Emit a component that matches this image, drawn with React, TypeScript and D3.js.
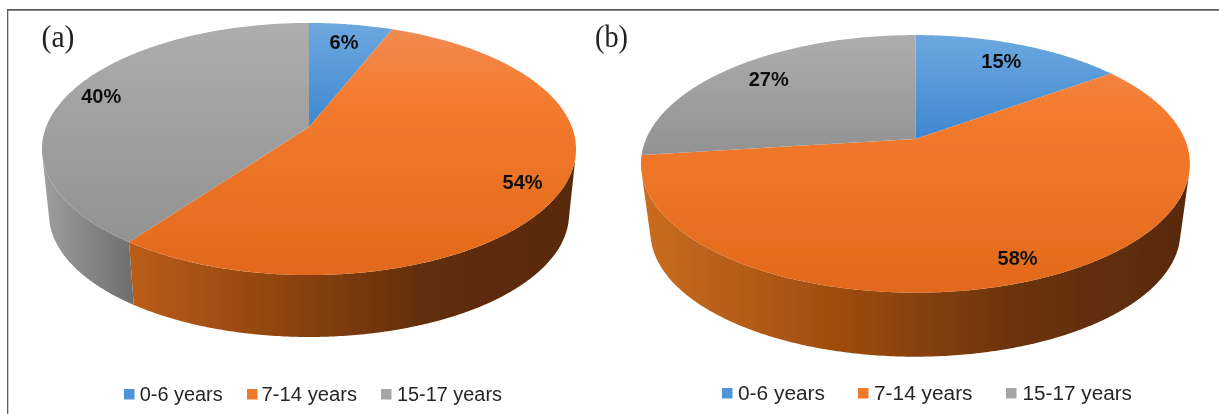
import React from "react";
import * as d3 from "d3";

const categories = ["0-6 years", "7-14 years", "15-17 years"];
const valuesA = [6, 54, 40];
const valuesB = [15, 58, 27];
const panelNames = ["(a)", "(b)"];

const WIDTH = 1219;
const HEIGHT = 414;

const topStops = [
  [["0", "#6ca8df"], ["1", "#3f87cf"]],
  [["0", "#f08c55"], ["0.3", "#f47b2d"], ["1", "#e2691a"]],
  [["0", "#adadad"], ["1", "#929292"]],
];

interface Panel {
  id: string; name: string; values: number[];
  cx: number; vy: number; R: number; K: number; p: number;
  Rb: number; Kb: number; vyb: number;
  x0: number; x1: number; y0: number; y1: number;
  labelF: number[]; titleX: number;
  legendSwatch: number[]; legendText: [number, number][]; legendY: number;
  orangeSide: [number, string][];
  graySide: [number, string][];
}

const panels: Panel[] = [
  {
    id: "a", name: panelNames[0], values: valuesA,
    cx: 309, vy: 127, R: 262.9, K: 122.2, p: 0.1746,
    Rb: 256, Kb: 119, vyb: 192.8,
    x0: 40, x1: 578, y0: 23, y1: 275,
    labelF: [0.81, 0.86, 0.87], titleX: 41.5,
    legendSwatch: [124, 247, 381],
    legendText: [[139.7, 83], [261.6, 95.5], [397, 105]], legendY: 400,
    orangeSide: [[133, "#b95d14"], [300, "#8a4110"], [430, "#5f2d09"], [570, "#592a08"]],
    graySide: [[46, "#9c9c9c"], [133, "#6e6e6e"]],
  },
  {
    id: "b", name: panelNames[1], values: valuesB,
    cx: 915.4, vy: 139, R: 269.3, K: 124, p: 0.193,
    Rb: 260, Kb: 120, vyb: 208,
    x0: 640, x1: 1190, y0: 35, y1: 293,
    labelF: [0.8, 0.87, 0.8], titleX: 595,
    legendSwatch: [722, 858, 1006],
    legendText: [[738, 87], [874, 98.5], [1022.5, 109.5]], legendY: 399,
    orangeSide: [[645, "#ca6c20"], [830, "#a04e10"], [1020, "#6a3209"], [1185, "#592a08"]],
    graySide: [[640, "#9c9c9c"], [700, "#6e6e6e"]],
  },
];

type Pt = [number, number];

function project(P: Panel, theta: number, f = 1, bottom = false): Pt {
  const u = Math.sin(theta) * f;
  const v = -Math.cos(theta) * f;
  const w = 1 / (1 - P.p * v);
  return bottom
    ? [P.cx + P.Rb * u * w, P.vyb + P.Kb * v * w]
    : [P.cx + P.R * u * w, P.vy + P.K * v * w];
}

function samples(a: number, b: number): number[] {
  const n = Math.max(2, Math.ceil((b - a) / 0.01));
  return d3.range(n + 1).map((i) => a + ((b - a) * i) / n);
}

const line = d3.line<Pt>().x((d) => d[0]).y((d) => d[1]);

function topPath(P: Panel, a: number, b: number): string {
  const pts: Pt[] = [[P.cx, P.vy], ...samples(a, b).map((t) => project(P, t))];
  return line(pts) + "Z";
}

function sidePath(P: Panel, a: number, b: number): string {
  const ts = samples(a, b);
  let out = "";
  for (let i = 0; i < ts.length - 1; i++) {
    const p1 = project(P, ts[i]);
    const p2 = project(P, ts[i + 1]);
    const p3 = project(P, ts[i + 1], 1, true);
    const p4 = project(P, ts[i], 1, true);
    const area =
      (p2[0] - p1[0]) * (p4[1] - p1[1]) - (p2[1] - p1[1]) * (p4[0] - p1[0]);
    if (area >= 0) continue;
    out += line([p1, p2, p3, p4]) + "Z";
  }
  return out;
}

function PanelView({ P }: { P: Panel }) {
  const arcs = d3.pie<number>().sort(null).value((d) => d)(P.values);
  const px = d3.scaleLinear().domain([0, 1]).range([P.y0, P.y1]);
  return (
    <g>
      <defs>
        {topStops.map((stops, i) => {
          const arc = arcs[i];
          const ys = samples(arc.startAngle, arc.endAngle).map((t) => project(P, t)[1]);
          const y0 = d3.min([...ys, P.vy]) as number;
          const y1 = d3.max([...ys, P.vy]) as number;
          return (
            <linearGradient key={i} id={`top-${P.id}-${i}`} gradientUnits="userSpaceOnUse"
              x1={0} x2={0} y1={i === 1 ? px(0) : y0} y2={i === 1 ? px(1) : y1}>
              {stops.map(([o, c]) => <stop key={o} offset={o} stopColor={c} />)}
            </linearGradient>
          );
        })}
        {[P.orangeSide, P.graySide].map((stops, i) => {
          const xs = stops.map((s) => s[0]);
          const x0 = xs[0];
          const x1 = xs[xs.length - 1];
          return (
            <linearGradient key={i} id={`side-${P.id}-${i}`} gradientUnits="userSpaceOnUse"
              x1={x0} x2={x1} y1={0} y2={0}>
              {stops.map(([x, c]) => <stop key={x} offset={(x - x0) / (x1 - x0)} stopColor={c} />)}
            </linearGradient>
          );
        })}
      </defs>
      {arcs.map((arc, i) => {
        const fill = i === 1 ? `url(#side-${P.id}-0)` : i === 2 ? `url(#side-${P.id}-1)` : "#2e6da8";
        return <path key={i} d={sidePath(P, arc.startAngle, arc.endAngle)} fill={fill} />;
      })}
      {arcs.map((arc, i) => (
        <path key={i} d={topPath(P, arc.startAngle, arc.endAngle)} fill={`url(#top-${P.id}-${i})`} />
      ))}
      {arcs.map((arc, i) => {
        const [x, y] = project(P, (arc.startAngle + arc.endAngle) / 2, P.labelF[i]);
        return (
          <text key={i} x={x} y={y + 7} textAnchor="middle" fontFamily="'Liberation Sans', Arial, sans-serif"
            fontWeight="700" fontSize={20} fill="#111">
            {P.values[i]}%
          </text>
        );
      })}
      <text x={P.titleX} y={46.5} fontFamily="'Liberation Serif', 'Times New Roman', serif" fontSize={31} fill="#222"
        textLength={33} lengthAdjust="spacingAndGlyphs">
        {P.name}
      </text>
      {categories.map((c, i) => (
        <g key={c}>
          <rect x={P.legendSwatch[i]} y={P.legendY - 11} width={10.5} height={10.5}
            fill={i === 0 ? "#4f94d8" : i === 1 ? "#f07a2c" : "#a5a5a5"} />
          <text x={P.legendText[i][0]} y={P.legendY + 0.5} fontFamily="'Liberation Sans', Arial, sans-serif"
            fontSize={20} fill="#262626" textLength={P.legendText[i][1]} lengthAdjust="spacingAndGlyphs">
            {c}
          </text>
        </g>
      ))}
    </g>
  );
}

export default function App() {
  return (
    <svg width={WIDTH} height={HEIGHT} viewBox={`0 0 ${WIDTH} ${HEIGHT}`}
      style={{ position: "absolute", left: 0, top: 0, display: "block", background: "#fff" }}>
      <defs>
        <filter id="soft" x="0" y="0" width="100%" height="100%">
          <feGaussianBlur stdDeviation="0.45" />
        </filter>
      </defs>
      <g filter="url(#soft)">
        <path d={`M7 ${HEIGHT}V9.5H${WIDTH}`} fill="none" stroke="#5c5c5c" strokeWidth={2.6} />
        {panels.map((P) => <PanelView key={P.id} P={P} />)}
      </g>
    </svg>
  );
}
